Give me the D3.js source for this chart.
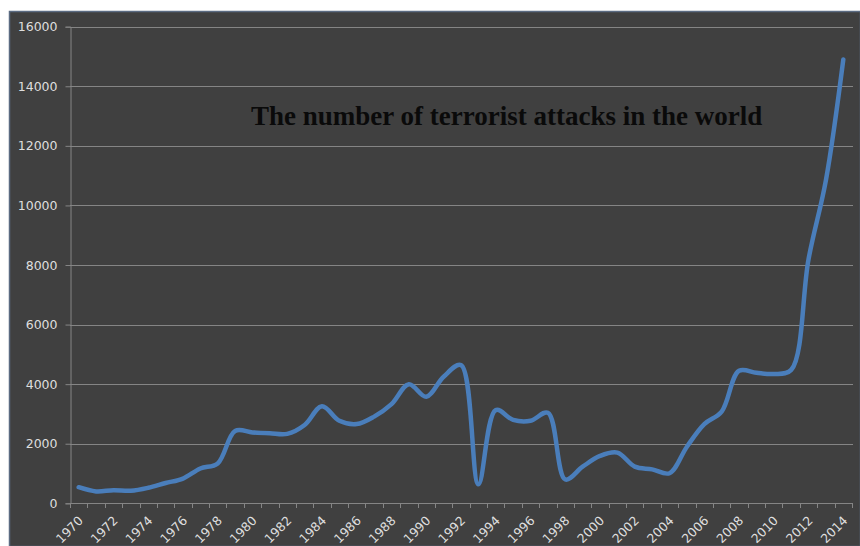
<!DOCTYPE html>
<html>
<head>
<meta charset="utf-8">
<script src="https://cdn.jsdelivr.net/npm/d3@7/dist/d3.min.js"></script>
<style>
  html, body { margin: 0; padding: 0; background: #ffffff; }
  svg { display: block; }
</style>
</head>
<body>
<svg id="chart" width="860" height="546"></svg>
<script>
// ---- data ----
const years = d3.range(1970, 2015);
const attacks = [
  540, 400, 440, 420, 520, 680, 830, 1170, 1340, 2430,
  2380, 2350, 2330, 2630, 3260, 2770, 2660, 2910, 3330, 4000,
  3580, 4250, 4640, 640, 3130, 2800, 2770, 3040, 800, 1230,
  1590, 1700, 1230, 1140, 1010, 1900, 2660, 3080, 4450, 4380,
  4340, 4480, 8200, 10850, 14900
];
const yTicks = [0, 2000, 4000, 6000, 8000, 10000, 12000, 14000, 16000];
const xLabels = years.filter((y, i) => i % 2 === 0);
const titleText = "The number of terrorist attacks in the world";

// ---- layout ----
const svg = d3.select("#chart");
const W = 860, H = 546;
const plotLeft = 70, plotRight = 852, plotTop = 26.7, plotBottom = 503.3;

svg.append("rect")
  .attr("x", 9.5).attr("y", 11.5)
  .attr("width", W - 9).attr("height", H - 11)
  .attr("fill", "#404040")
  .attr("stroke", "#5b6b82").attr("stroke-width", 1.5);

const x = d3.scaleBand().domain(years).range([plotLeft, plotRight]).padding(0);
const y = d3.scaleLinear().domain([0, 16000]).range([plotBottom, plotTop]);

// gridlines
svg.append("g").selectAll("line").data(yTicks.filter(d => d > 0)).join("line")
  .attr("x1", plotLeft).attr("x2", plotRight + 1)
  .attr("y1", d => Math.round(y(d)) + 0.5).attr("y2", d => Math.round(y(d)) + 0.5)
  .attr("stroke", "#858585").attr("stroke-width", 1);

// y axis
const yAxis = d3.axisLeft(y).tickValues(yTicks).tickSize(5).tickPadding(8).tickFormat(d3.format("d"));
const gy = svg.append("g").attr("transform", `translate(${plotLeft + 0.5},0)`).call(yAxis);
gy.select(".domain").attr("stroke", "#858585");
gy.selectAll(".tick line").attr("stroke", "#858585");
gy.selectAll(".tick text")
  .attr("fill", "#dedede")
  .style("font-family", "'DejaVu Sans', Verdana, sans-serif")
  .style("font-size", "12.5px");

// x axis line + ticks at category boundaries
const gx = svg.append("g");
gx.append("line")
  .attr("x1", plotLeft).attr("x2", plotRight + 1)
  .attr("y1", Math.round(plotBottom) + 0.5).attr("y2", Math.round(plotBottom) + 0.5)
  .attr("stroke", "#858585");
const boundaries = years.map(d => x(d)).concat([x(years[years.length - 1]) + x.bandwidth()]);
gx.selectAll("line.tk").data(boundaries).join("line").attr("class", "tk")
  .attr("x1", d => Math.round(d) + 0.5).attr("x2", d => Math.round(d) + 0.5)
  .attr("y1", Math.round(plotBottom)).attr("y2", Math.round(plotBottom) + 5)
  .attr("stroke", "#858585");
gx.selectAll("text").data(xLabels).join("text")
  .attr("transform", d => `translate(${x(d) + x.bandwidth() / 2 + 2},${plotBottom + 15}) rotate(-45)`)
  .attr("text-anchor", "end")
  .attr("dy", "0.35em")
  .attr("fill", "#dedede")
  .style("font-family", "'DejaVu Sans', Verdana, sans-serif")
  .style("font-size", "12.5px")
  .text(d => d);

// line
const line = d3.line()
  .x((d, i) => x(years[i]) + x.bandwidth() / 2)
  .y(d => y(d))
  .curve(d3.curveCatmullRom.alpha(0.5));
svg.append("path")
  .datum(attacks)
  .attr("d", line)
  .attr("fill", "none")
  .attr("stroke", "#4a7ebb")
  .attr("stroke-width", 4.5)
  .attr("stroke-linejoin", "round")
  .attr("stroke-linecap", "round");

// title
svg.append("text")
  .attr("x", 251).attr("y", 125)
  .attr("fill", "#0a0a0a")
  .style("font-family", "'Liberation Serif', 'Times New Roman', serif")
  .style("font-weight", "bold")
  .style("font-size", "27px")
  .text(titleText);
</script>
</body>
</html>
